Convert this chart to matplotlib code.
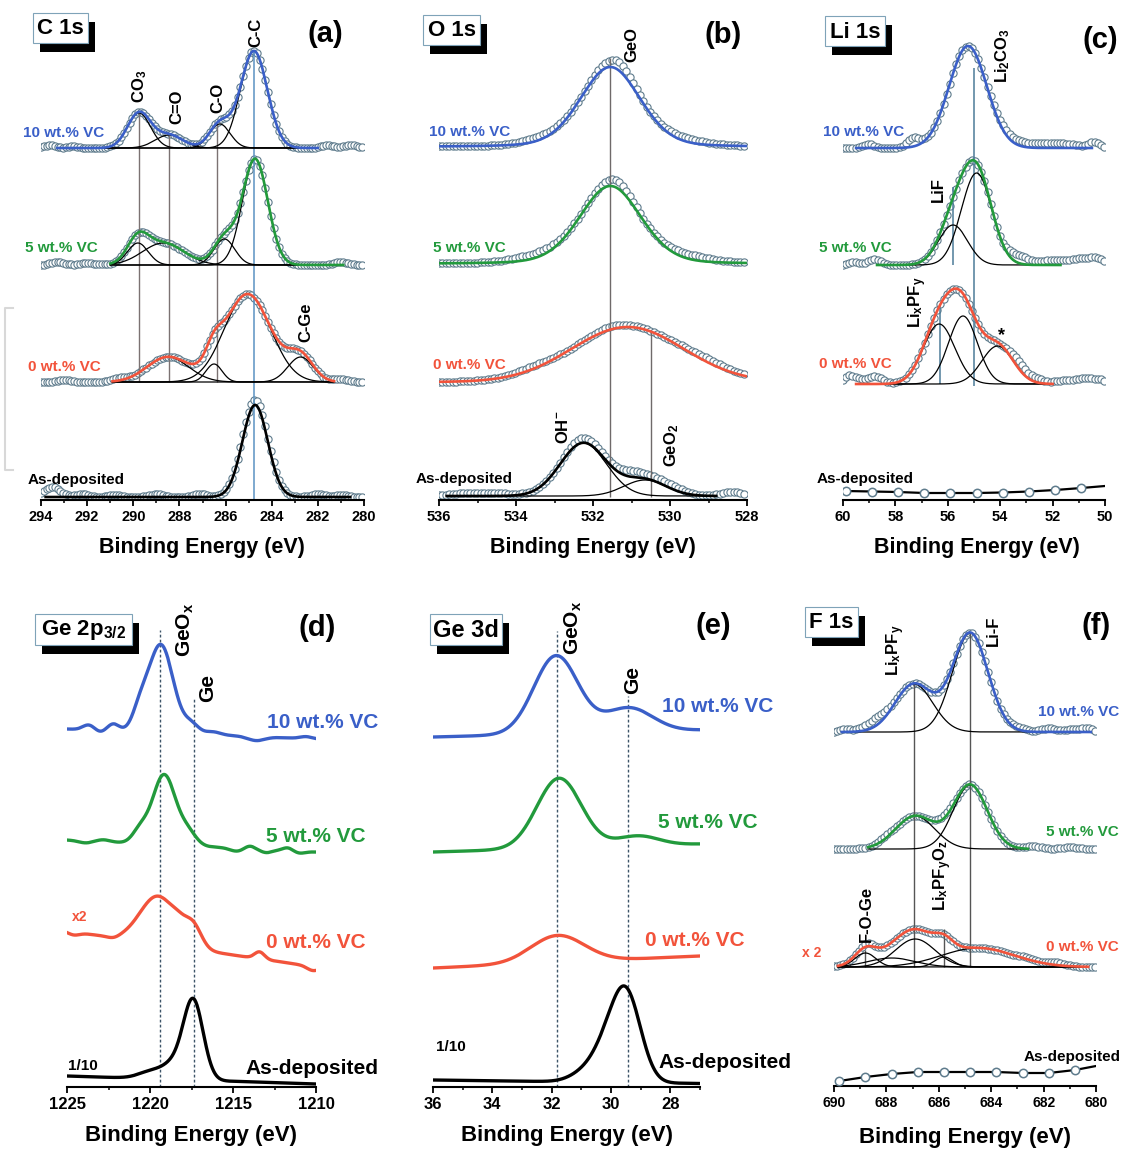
import numpy as np
import matplotlib
matplotlib.use('Agg')
import matplotlib.pyplot as plt
from matplotlib.patches import Rectangle
from matplotlib.lines import Line2D
from matplotlib.ticker import MultipleLocator

plt.rcParams['font.family'] = ['Liberation Sans', 'DejaVu Sans']
plt.rcParams['font.weight'] = 'bold'
plt.rcParams['mathtext.fontset'] = 'custom'
plt.rcParams['mathtext.rm'] = 'Liberation Sans:bold'
plt.rcParams['mathtext.it'] = 'Liberation Sans:bold'
plt.rcParams['mathtext.bf'] = 'Liberation Sans:bold'
plt.rcParams['mathtext.default'] = 'rm'

BLUE, GREEN, RED = '#3a5fc8', '#229a3c', '#f2533b'
CIRC = '#5e7b8c'
W, H = 1122, 1149

# peaks are (centre eV, height, width eV); heights in px above the panel axis
# --- C 1s
a10_base, a5_base, a0_base, aas_base = 352, 235, 118, 3
a10_fit = [(289.75, 35, 0.5), (288.45, 13, 0.6), (286.25, 24, 0.45), (284.77, 97, 0.58)]
a10_extra = [(293.6, 3, 0.25), (292.6, 2, 0.2), (281.6, 3, 0.25), (280.6, 3, 0.3)]
a5_fit = [(289.8, 22, 0.45), (288.7, 22, 0.9), (286.05, 26, 0.45), (284.72, 106, 0.55)]
a5_extra = [(293.3, 3, 0.3), (292.0, 2, 0.3), (281.0, 3, 0.3)]
a0_fit = [(288.5, 25, 0.9), (286.5, 18, 0.35), (285.05, 88, 1.0), (282.75, 25, 0.55)]
a0_extra = [(293.0, 2, 0.3), (290.6, 3, 0.3), (281.0, 3, 0.3)]
aas_fit = [(284.72, 92, 0.55)]
aas_extra = [(293.5, 10, 0.35), (292.2, 3, 0.3), (290.8, 2, 0.3), (289.0, 3, 0.3),
             (287.1, 3, 0.3), (284.72, 5, 0.7), (282.0, 3, 0.3), (281.0, 2, 0.3)]

# --- O 1s
b10_base, b5_base, b0_base, bas_base = 353, 236, 118, 4
b10_fit = [(531.55, 80, 0.78)]
b10_extra = [(531.35, 8, 0.35), (533.4, 4, 0.5), (529.6, 4, 0.6)]
b5_fit = [(531.55, 78, 0.8)]
b5_extra = [(531.4, 7, 0.35), (533.5, 5, 0.6), (529.5, 5, 0.6)]
b0_fit = [(531.1, 55, 1.45)]
b0_extra = [(533.6, 3, 0.5), (531.5, 3, 0.5), (529.0, 4, 0.6)]
bas_fit = [(532.25, 53, 0.6), (530.65, 16, 0.55)]
bas_extra = [(535.5, 2, 0.3), (534.6, 3, 0.5), (532.2, 5, 0.4), (531.0, 6, 0.4),
             (530.0, 4, 0.4), (528.4, 4, 0.3)]

# --- Li 1s
c10_base, c5_base, c0_base = 352, 235, 116
c10_fit = [(55.23, 102, 0.72)]
c10_extra = [(59.0, 4, 0.2), (57.3, 9, 0.25), (54.0, 4, 0.4), (53.3, 3, 0.4),
             (52.5, 4, 0.5), (51.5, 4, 0.5), (50.4, 6, 0.2)]
c5_fit = [(54.9, 92, 0.58), (55.8, 40, 0.55)]
c5_extra = [(59.6, 3, 0.2), (58.8, 6, 0.25), (53.5, 6, 0.3), (53.0, 5, 0.3),
            (52.0, 5, 0.4), (51.0, 6, 0.4), (50.3, 6, 0.3)]
c0_fit = [(56.33, 60, 0.6), (55.42, 68, 0.55), (54.1, 38, 0.6)]
c0_extra = [(59.8, 7, 0.2), (59.5, 4, 0.2), (58.8, 8, 0.3), (53.3, 8, 0.3),
            (52.6, 4, 0.3), (51.7, 3, 0.3), (50.8, 6, 0.4), (50.2, 3, 0.2)]
cas_E = [59.9, 58.9, 57.9, 56.9, 55.9, 54.9, 53.9, 52.9, 51.9, 50.9, 50.0]
cas_y = [9, 8.5, 8, 7, 7, 7, 7.5, 8.5, 10, 12, 14]

# --- Ge 2p3/2 (background left/right + peaks)
d10_bg, d5_bg, d0_bg, das_bg = (358, 348), (247, 235), (156, 120), (11, 3)
d10_pk = [(1219.35, 88, 0.75), (1220.6, 18, 0.45), (1217.5, 9, 0.45), (1223.7, 5, 0.35),
          (1223.0, -2, 0.3), (1222.2, 7, 0.35), (1216.2, 3, 0.45), (1213.6, -4, 0.5),
          (1210.6, 2, 0.35)]
d5_pk = [(1219.15, 70, 0.7), (1220.6, 12, 0.45), (1217.7, 12, 0.5), (1223.9, -2, 0.4),
         (1222.8, 2, 0.4), (1214.8, -3, 0.4), (1214.0, 3, 0.3), (1213.0, -3, 0.35),
         (1211.7, 3, 0.3), (1211.0, -2, 0.35)]
d0_pk = [(1219.5, 48, 1.1), (1218.3, 6, 0.4), (1217.4, 20, 0.5), (1224.6, -3, 0.35),
         (1222.2, -2, 0.35), (1213.4, 7, 0.3), (1210.2, -4, 0.35)]
das_pk = [(1217.4, 80, 0.6), (1218.6, 12, 0.6), (1219.8, 8, 0.8)]

# --- Ge 3d
e10_bg, e5_bg, e0_bg, eas_bg = (350, 357), (235, 243), (119, 131), (7, 3.5)
e10_pk = [(31.85, 78, 0.75), (29.4, 24, 0.8)]
e5_pk = [(31.75, 70, 0.75), (29.1, 10, 0.7)]
e0_pk = [(31.8, 27, 0.9)]
eas_pk = [(29.45, 80, 0.48), (30.1, 33, 0.5), (30.9, 8, 0.5)]

# --- F 1s
f10_base, f5_base, f0_base = 354, 237, 119
f10_fit = [(684.8, 99, 0.68), (686.95, 48, 0.72)]
f10_extra = [(689.6, 3, 0.2), (688.4, 8, 0.45), (683.0, 3, 0.3), (681.8, 4, 0.3),
             (680.8, 3, 0.3), (680.3, 3, 0.2)]
f5_fit = [(684.8, 64, 0.65), (686.9, 33, 0.75)]
f5_extra = [(688.0, 3, 0.3), (685.8, 3, 0.3), (682.4, 3, 0.3), (681.0, 2, 0.3)]
f0_fit = [(688.8, 14, 0.4), (687.8, 9, 0.9), (686.9, 28, 0.75), (685.8, 10, 0.35),
          (684.5, 19, 1.4)]
f0_extra = [(688.7, 3, 0.2), (682.6, 2, 0.3), (681.5, 3, 0.3)]
fas_E = [689.8, 688.8, 687.8, 686.8, 685.8, 684.8, 683.8, 682.8, 681.8, 680.8, 680.0]
fas_y = [5, 9, 12, 14, 14, 14, 14, 13, 13, 16, 20]


def prof(x, peaks, eta=0.0):
    y = np.zeros_like(x)
    for c, h, w in peaks:
        g = np.exp(-(x - c) ** 2 / (2 * w * w))
        l = 1 / (1 + ((x - c) / (1.1774 * w)) ** 2)
        y += h * ((1 - eta) * g + eta * l)
    return y


fig = plt.figure(figsize=(W / 100, H / 100), dpi=100)


def ftext(x, y, s, **kw):
    kw.setdefault('va', 'center')
    kw.setdefault('ha', 'center')
    fig.text(x / W, 1 - y / H, s, **kw)


def panel(x0, x1, ytop, yaxis, xlim, major, minor, tfs):
    ax = fig.add_axes([x0 / W, 1 - yaxis / H, (x1 - x0) / W, (yaxis - ytop) / H])
    ax.set_xlim(*xlim)
    ax.set_ylim(0, yaxis - ytop)
    for s in ('left', 'right', 'top'):
        ax.spines[s].set_visible(False)
    ax.spines['bottom'].set_linewidth(1.5)
    ax.set_yticks([])
    ax.xaxis.set_major_locator(MultipleLocator(major))
    ax.xaxis.set_minor_locator(MultipleLocator(minor))
    ax.tick_params(axis='x', which='major', direction='out', length=4, width=1.3,
                   labelsize=tfs, pad=3)
    ax.tick_params(axis='x', which='minor', direction='out', length=2.5, width=1.1)
    ax.patch.set_visible(False)
    return ax


def fitted(ax, base, fit, extra, fit_rng, color, data_rng, step, eta=0.0, comps=True):
    xd = np.arange(data_rng[0], data_rng[1] - 1e-6, -step)
    ax.plot(xd, base + prof(xd, fit + extra, eta), 'o', ms=5.2, mfc='white',
            mec=CIRC, mew=0.8, zorder=2)
    xf = np.linspace(fit_rng[1], fit_rng[0], 500)
    if comps:
        for p in fit:
            ax.plot(xf, base + prof(xf, [p], eta), color='k', lw=0.9, zorder=3)
    ax.plot(xf, base + prof(xf, fit, eta), color=color, lw=1.9, zorder=4)


def raw(ax, bg, peaks, xlim, color):
    x = np.linspace(xlim[1], xlim[0], 700)
    b = bg[0] + (bg[1] - bg[0]) * (xlim[0] - x) / (xlim[0] - xlim[1])
    ax.plot(x, b + prof(x, peaks), color=color, lw=2.4)


def sparse(ax, E, y):
    ax.plot(E, y, 'k-', lw=1.6, zorder=2)
    ax.plot(E[:-1], y[:-1], 'o', ms=6, mfc='white', mec=CIRC, mew=1.1, zorder=3)


def box(x0, y0, x1, y1, label, fs):
    fig.add_artist(Rectangle(((x0 + 7) / W, 1 - (y1 + 9) / H), (x1 - x0) / W, (y1 - y0) / H,
                             transform=fig.transFigure, fc='black', ec='none'))
    fig.add_artist(Rectangle((x0 / W, 1 - y1 / H), (x1 - x0) / W, (y1 - y0) / H,
                             transform=fig.transFigure, fc='white', ec='#7fa3b8', lw=0.8))
    ftext((x0 + x1) / 2, (y0 + y1) / 2 + 1, label, fontsize=fs)


def rot(x, y, s, fs=12):
    ftext(x, y, s, fontsize=fs, rotation=90)


# (a) C 1s
ax = panel(41, 364, 0, 500, (294, 280), 2, 1, 10.5)
ax.vlines([289.75, 288.45, 286.35], [387, 365, 377], 118, color='#7b7272', lw=1, zorder=2.5)
ax.vlines(284.77, 0, 450, color='#5b92c2', lw=1.1, zorder=2.5)
fitted(ax, a10_base, a10_fit, a10_extra, (293.3, 282.0), BLUE, (294, 280), 0.12)
fitted(ax, a5_base, a5_fit, a5_extra, (291.0, 280.9), GREEN, (294, 280), 0.12)
fitted(ax, a0_base, a0_fit, a0_extra, (290.9, 281.3), RED, (294, 280), 0.12)
fitted(ax, aas_base, aas_fit, aas_extra, (293.8, 280.6), 'k', (294, 280), 0.12, comps=False)

# (b) O 1s
ax = panel(439, 747, 0, 500, (536, 528), 2, 1, 10.5)
ax.vlines([531.55, 530.5], 3, [442, 168], color='#6f6a6a', lw=1, zorder=2.5)
fitted(ax, b10_base, b10_fit, b10_extra, (536, 528), BLUE, (536, 528), 0.09, 0.2, False)
fitted(ax, b5_base, b5_fit, b5_extra, (536, 528), GREEN, (536, 528), 0.09, 0.2, False)
fitted(ax, b0_base, b0_fit, b0_extra, (536, 528), RED, (536, 528), 0.09, 0.0, False)
fitted(ax, bas_base, bas_fit, bas_extra, (535.8, 528.8), 'k', (536, 528), 0.09)

# (c) Li 1s
ax = panel(843, 1105, 0, 500, (60, 50), 2, 1, 10.5)
ax.vlines([55.0, 55.8, 56.3], [114, 235, 116], [432, 313, 195], color='#4d7c99', lw=1.1,
          zorder=2.5)
fitted(ax, c10_base, c10_fit, c10_extra, (59.5, 50.5), BLUE, (60, 50), 0.12, comps=False)
fitted(ax, c5_base, c5_fit, c5_extra, (58.7, 51.7), GREEN, (60, 50), 0.12)
fitted(ax, c0_base, c0_fit, c0_extra, (59.5, 52.0), RED, (60, 50), 0.12)
sparse(ax, cas_E, cas_y)

# (d) Ge 2p3/2
ax = panel(67, 316, 600, 1087, (1225, 1210), 5, 2.5, 12)
ax.vlines([1219.4, 1217.35], 0, [457, 389], color='#3d5468', lw=1,
          linestyles=(0, (2, 1.6)))
raw(ax, d10_bg, d10_pk, (1225, 1210), BLUE)
raw(ax, d5_bg, d5_pk, (1225, 1210), GREEN)
raw(ax, d0_bg, d0_pk, (1225, 1210), RED)
raw(ax, das_bg, das_pk, (1225, 1210), 'k')

# (e) Ge 3d
ax = panel(433, 700, 600, 1087, (36, 27), 2, 1, 12)
ax.vlines([31.82, 29.43], 0, [456, 391], color='#3d5468', lw=1,
          linestyles=(0, (2, 1.6)))
raw(ax, e10_bg, e10_pk, (36, 27), BLUE)
raw(ax, e5_bg, e5_pk, (36, 27), GREEN)
raw(ax, e0_bg, e0_pk, (36, 27), RED)
raw(ax, eas_bg, eas_pk, (36, 27), 'k')

# (f) F 1s
ax = panel(834, 1096, 600, 1086, (690, 680), 2, 1, 10)
ax.vlines([686.95, 684.8, 688.8, 685.8], 119, [402, 453, 136, 157], color='#555555', lw=1,
          zorder=2.5)
fitted(ax, f10_base, f10_fit, f10_extra, (689.7, 680.2), BLUE, (690, 680), 0.12)
fitted(ax, f5_base, f5_fit, f5_extra, (688.7, 682.6), GREEN, (690, 680), 0.12)
fitted(ax, f0_base, f0_fit, f0_extra, (689.85, 680.3), RED, (690, 680), 0.12)
sparse(ax, fas_E, fas_y)

# title boxes and panel letters
box(33, 13, 88, 43, 'C 1s', 16)
box(423, 15, 480, 45, 'O 1s', 16)
box(825, 16, 885, 46, 'Li 1s', 16)
box(35, 614, 132, 645, 'Ge 2p$_{3/2}$', 16)
box(430, 614, 502, 645, 'Ge 3d', 17)
box(805, 607, 858, 637, 'F 1s', 16)
for s, x, y in [('(a)', 325, 34), ('(b)', 723, 35), ('(c)', 1100, 40),
                ('(d)', 317, 628), ('(e)', 713, 626), ('(f)', 1096, 626)]:
    ftext(x, y, s, fontsize=21)

# series labels
for x, y in [(23, 133), (429, 132), (823, 132)]:
    ftext(x, y, '10 wt.% VC', fontsize=11, color=BLUE, ha='left')
for x, y in [(25, 248), (433, 248), (819, 248)]:
    ftext(x, y, '5 wt.% VC', fontsize=11, color=GREEN, ha='left')
for x, y in [(28, 367), (433, 365), (819, 364)]:
    ftext(x, y, '0 wt.% VC', fontsize=11, color=RED, ha='left')
for x, y in [(28, 480), (416, 479), (817, 479)]:
    ftext(x, y, 'As-deposited', fontsize=11, ha='left')
ftext(1119, 712, '10 wt.% VC', fontsize=11, color=BLUE, ha='right')
ftext(1119, 832, '5 wt.% VC', fontsize=11, color=GREEN, ha='right')
ftext(1119, 947, '0 wt.% VC', fontsize=11, color=RED, ha='right')
ftext(1121, 1057, 'As-deposited', fontsize=11, ha='right')
ftext(812, 953, 'x 2', fontsize=10, color=RED)
for x, y, s, c in [(267, 723, '10 wt.% VC', BLUE), (266, 836, '5 wt.% VC', GREEN),
                   (266, 942, '0 wt.% VC', RED), (245, 1068, 'As-deposited', 'k'),
                   (662, 707, '10 wt.% VC', BLUE), (658, 822, '5 wt.% VC', GREEN),
                   (645, 940, '0 wt.% VC', RED), (658, 1063, 'As-deposited', 'k')]:
    ftext(x, y, s, fontsize=15, color=c, ha='left')
ftext(72, 917, 'x2', fontsize=10, color=RED, ha='left')
ftext(68, 1066, '1/10', fontsize=11, ha='left')
ftext(436, 1047, '1/10', fontsize=11, ha='left')

# peak labels
rot(140, 86, 'CO$_3$')
rot(177, 107, 'C=O')
rot(218, 98, 'C-O')
rot(256, 32, 'C-C')
rot(306, 322, 'C-Ge')
rot(632, 45, 'GeO')
rot(563, 427, 'OH$^{-}$')
rot(672, 445, 'GeO$_2$')
rot(1003, 55, 'Li$_2$CO$_3$')
rot(938, 190, 'LiF')
rot(918, 302, 'Li$_x$PF$_y$')
ftext(1002, 336, '*', fontsize=13)
rot(185, 630, 'GeO$_x$', 15)
rot(208, 688, 'Ge', 15)
rot(573, 628, 'GeO$_x$', 15)
rot(633, 680, 'Ge', 15)
rot(896, 650, 'Li$_x$PF$_y$')
rot(993, 631, 'Li-F')
rot(866, 914, 'F-O-Ge')
rot(943, 876, 'Li$_x$PF$_y$O$_z$')

# axis titles
for x, y, fs in [(202, 547, 15.5), (593, 547, 15.5), (977, 547, 15.5),
                 (191, 1136, 16), (567, 1136, 16), (965, 1137, 16)]:
    ftext(x, y, 'Binding Energy (eV)', fontsize=fs)

# faint bracket at the left edge
fig.add_artist(Line2D([13 / W, 5 / W, 5 / W, 13 / W],
                      [1 - 308 / H, 1 - 308 / H, 1 - 470 / H, 1 - 470 / H],
                      transform=fig.transFigure, color='#d8d8d8', lw=1.5))

fig.savefig('out.png', dpi=100)
